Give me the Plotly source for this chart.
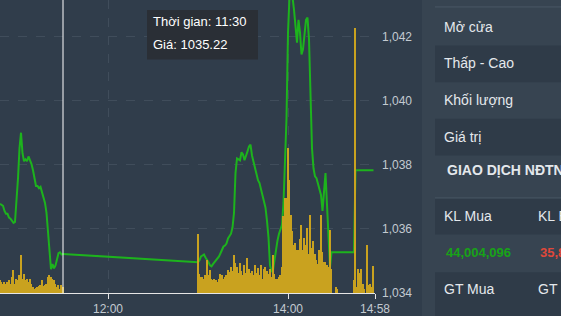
import pandas as pd
import plotly.graph_objects as go

# ---------------- data ----------------
DAY = "2024-01-02 "
morning_start, morning_end = "10:48", "11:30"
afternoon_start, afternoon_end = "13:00", "14:57"

morning_price = [1036.78, 1036.75, 1036.72, 1036.56, 1036.47, 1036.47, 1036.35, 1036.32, 1036.25, 1036.19,
                 1036.22, 1036.81, 1037.58, 1038.51, 1039.00, 1038.36, 1038.11, 1038.17, 1038.11, 1038.26,
                 1038.14, 1038.02, 1037.83, 1037.58, 1037.34, 1037.34, 1037.27, 1037.31, 1037.12, 1036.97,
                 1036.81, 1036.50, 1035.88, 1035.27, 1034.74, 1034.90, 1034.77, 1034.86, 1035.05, 1035.24,
                 1035.27, 1035.20, 1035.22]
morning_volume = [130, 110, 90, 110, 90, 110, 130, 90, 160, 230,
                  90, 140, 130, 180, 380, 140, 190, 130, 140, 110,
                  140, 90, 60, 40, 50, 60, 70, 80, 130, 70,
                  80, 90, 160, 180, 160, 140, 130, 90, 60, 80,
                  40, 80, 60]

afternoon_price = [1034.96, 1035.02, 1035.14, 1035.17, 1035.20, 1035.11, 1035.05, 1034.96, 1034.86, 1034.83,
                   1034.90, 1034.96, 1035.02, 1035.08, 1035.14, 1035.24, 1035.33, 1035.45, 1035.48, 1035.54,
                   1035.70, 1035.79, 1035.85, 1036.04, 1036.50, 1037.74, 1038.20, 1038.17, 1038.14, 1038.39,
                   1038.32, 1038.14, 1038.26, 1038.42, 1038.57, 1038.63, 1038.29, 1038.11, 1037.95, 1037.68,
                   1037.52, 1037.43, 1037.21, 1037.03, 1036.87, 1036.66, 1036.25, 1035.73, 1034.86, 1034.68,
                   1034.71, 1035.05, 1035.36, 1035.64, 1035.85, 1036.01, 1036.13, 1036.81, 1037.98, 1039.44,
                   1042.12, 1043.24, 1043.33, 1043.24, 1042.83, 1042.37, 1041.81, 1042.52, 1042.12, 1041.44,
                   1041.60, 1042.06, 1042.52, 1042.59, 1041.91, 1040.21, 1038.51, 1037.89, 1037.64, 1037.58,
                   1037.43, 1037.27, 1037.06, 1036.56, 1037.27, 1037.74, 1036.75, 1035.73, 1034.80, 1035.27,
                   1035.27, 1035.27, 1035.27, 1035.27, 1035.27, 1035.27, 1035.27, 1035.27, 1035.27, 1035.27,
                   1035.27, 1035.27, 1035.27, 1035.27, 1035.27, 1037.83, 1037.83, 1037.83, 1037.83, 1037.83,
                   1037.83, 1037.83, 1037.83, 1037.83, 1037.83, 1037.83, 1037.83, 1037.83]
afternoon_volume = [600, 190, 160, 160, 140, 180, 330, 180, 230, 140,
                    130, 140, 130, 110, 140, 190, 180, 140, 160, 180,
                    230, 210, 260, 220, 380, 300, 260, 200, 300, 220,
                    180, 280, 200, 350, 240, 200, 220, 180, 280, 200,
                    250, 180, 280, 140, 240, 260, 220, 190, 240, 160,
                    380, 190, 140, 140, 160, 180, 260, 780, 960, 960,
                    1460, 1140, 790, 630, 490, 510, 430, 430, 550, 690,
                    430, 560, 480, 660, 390, 790, 450, 530, 390, 330,
                    290, 430, 790, 410, 310, 310, 280, 260, 640, 240,
                    0, 0, 60, 40, 0, 0, 0, 0, 0, 0,
                    0, 0, 0, 0, 130, 2680, 60, 240, 200, 240,
                    90, 40, 0, 490, 80, 90, 60, 270]

x_tick_labels = ["12:00", "14:00", "14:58"]
y_tick_values = [1034, 1036, 1038, 1040, 1042]
tooltip_time, tooltip_price = "11:30", 1035.22

panel_rows = ["Mở cửa", "Thấp - Cao", "Khối lượng", "Giá trị"]
panel_header = "GIAO DỊCH NĐTNN"
foreign_labels = [("KL Mua", "KL Bán"), ("GT Mua", "GT Bán")]
foreign_values = ("44,004,096", "35,812,540")

# ---------------- build ----------------
t_morning = pd.date_range(DAY + morning_start, DAY + morning_end, freq="1min")
t_afternoon = pd.date_range(DAY + afternoon_start, DAY + afternoon_end, freq="1min")
times = list(t_morning) + list(t_afternoon)
prices = morning_price + afternoon_price
volumes = morning_volume + afternoon_volume

BG = "#303d4b"
PANEL = "#374451"
ROW_DARK = "#2f3b48"
TXT = "#e4e8ec"
AX = "#c3cad1"
GRID = "#404d5b"
FONT = "Arial, Liberation Sans, sans-serif"

W, H = 561, 316
ML, MR, MT, MB = 0, 186, 0, 20
PW, PH = W - ML - MR, H - MT - MB


def xp(px):
    return (px - ML) / PW


def yp(py):
    return (MT + PH - py) / PH


fig = go.Figure()
fig.add_trace(go.Bar(x=times, y=volumes, yaxis="y2", marker=dict(color="#c9a21f", line=dict(width=0)),
                     width=45000, hoverinfo="skip"))
fig.add_trace(go.Scatter(x=times, y=prices, mode="lines", line=dict(color="#1db31d", width=2),
                         hoverinfo="skip"))

shapes = []
# crosshair
shapes.append(dict(type="line", xref="x", yref="paper", x0=DAY + tooltip_time, x1=DAY + tooltip_time,
                   y0=0, y1=1, line=dict(color="#ffffff", width=1)))
# tooltip box
shapes.append(dict(type="rect", xref="paper", yref="paper", x0=xp(147), x1=xp(258), y0=yp(60), y1=yp(10),
                   fillcolor="#2a2f36", line=dict(width=0), layer="above"))
# right panel
shapes.append(dict(type="rect", xref="paper", yref="paper", x0=xp(422), x1=xp(W + 5), y0=yp(H + 5), y1=yp(-5),
                   fillcolor=PANEL, line=dict(width=0), layer="below"))
for (a, b) in [(46, 83), (120, 157), (200, 237), (275, 320)]:
    shapes.append(dict(type="rect", xref="paper", yref="paper", x0=xp(435), x1=xp(W + 5), y0=yp(b), y1=yp(a),
                       fillcolor=ROW_DARK, line=dict(width=0), layer="below"))
for ly in [7, 200]:
    shapes.append(dict(type="line", xref="paper", yref="paper", x0=xp(435), x1=xp(W + 5), y0=yp(ly), y1=yp(ly),
                       line=dict(color="#4a5765", width=1), layer="below"))

ann = []
ann.append(dict(xref="paper", yref="paper", x=xp(151), y=yp(22), xanchor="left", yanchor="middle",
                text=f"Thời gian: {tooltip_time}", showarrow=False, font=dict(color="#ffffff", size=13, family=FONT)))
ann.append(dict(xref="paper", yref="paper", x=xp(151), y=yp(45), xanchor="left", yanchor="middle",
                text=f"Giá: {tooltip_price:.2f}", showarrow=False, font=dict(color="#ffffff", size=13, family=FONT)))
for i, lab in enumerate(panel_rows):
    ann.append(dict(xref="paper", yref="paper", x=xp(442), y=yp(27 + 37 * i), xanchor="left", yanchor="middle",
                    text=lab, showarrow=False, font=dict(color=TXT, size=14, family=FONT)))
ann.append(dict(xref="paper", yref="paper", x=xp(445), y=yp(172), xanchor="left", yanchor="middle",
                text=f"<b>{panel_header}</b>", showarrow=False, font=dict(color=TXT, size=14, family=FONT)))
for (py, pair) in [(218, foreign_labels[0]), (292, foreign_labels[1])]:
    ann.append(dict(xref="paper", yref="paper", x=xp(442), y=yp(py), xanchor="left", yanchor="middle",
                    text=pair[0], showarrow=False, font=dict(color=TXT, size=14, family=FONT)))
    ann.append(dict(xref="paper", yref="paper", x=xp(536), y=yp(py), xanchor="left", yanchor="middle",
                    text=pair[1], showarrow=False, font=dict(color=TXT, size=14, family=FONT)))
ann.append(dict(xref="paper", yref="paper", x=xp(444), y=yp(255), xanchor="left", yanchor="middle",
                text=f"<b>{foreign_values[0]}</b>", showarrow=False, font=dict(color="#17a317", size=13, family=FONT)))
ann.append(dict(xref="paper", yref="paper", x=xp(538), y=yp(255), xanchor="left", yanchor="middle",
                text=f"<b>{foreign_values[1]}</b>", showarrow=False, font=dict(color="#e0483a", size=13, family=FONT)))

fig.update_layout(
    width=W, height=H, margin=dict(l=ML, r=MR, t=MT, b=MB),
    paper_bgcolor=BG, plot_bgcolor=BG, showlegend=False, bargap=0,
    font=dict(family=FONT, color=AX, size=12),
    xaxis=dict(type="date", range=[DAY + "10:48", DAY + "14:58"],
               tickvals=[DAY + t for t in x_tick_labels], ticktext=x_tick_labels,
               showgrid=True, gridcolor=GRID, griddash="dash", gridwidth=1,
               showline=True, linecolor="#e6e6e6", linewidth=1, ticks="outside", ticklen=5,
               tickcolor="#e6e6e6", tickfont=dict(size=12, color=AX), zeroline=False),
    yaxis=dict(range=[1034, 1043.14], side="right", tickvals=y_tick_values, tickformat=",d",
               showgrid=True, gridcolor=GRID, griddash="dash", gridwidth=1, zeroline=False,
               showline=False, ticks="", ticklabelstandoff=6, tickfont=dict(size=12, color=AX)),
    yaxis2=dict(range=[0, 2960], overlaying="y", visible=False, showgrid=False),
    shapes=shapes, annotations=ann,
)

fig.write_html("out.html")
